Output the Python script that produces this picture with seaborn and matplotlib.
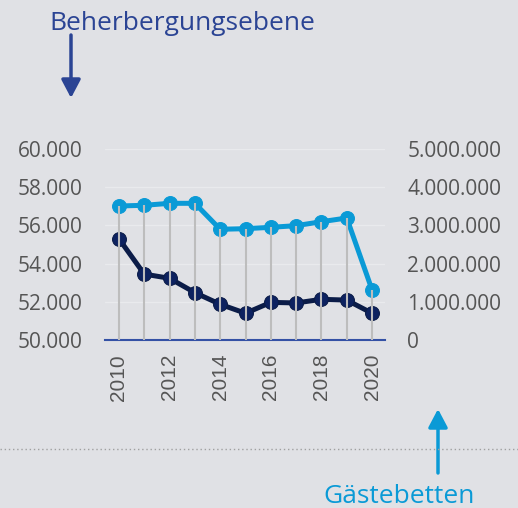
import numpy as np
import pandas as pd
import matplotlib
matplotlib.use('Agg')
import matplotlib.pyplot as plt
import seaborn as sns
from matplotlib.ticker import FuncFormatter
from matplotlib.lines import Line2D

# data
years = [2010, 2011, 2012, 2013, 2014, 2015, 2016, 2017, 2018, 2019, 2020]
betriebe = [55300, 53450, 53230, 52480, 51870, 51400, 51970, 51940, 52130, 52090, 51400]
betten = [3508000, 3526000, 3578000, 3578000, 2898000, 2914000, 2950000, 2993000, 3097000, 3194000, 1309000]
left_ticks = [50000, 52000, 54000, 56000, 58000, 60000]
right_ticks = [0, 1000000, 2000000, 3000000, 4000000, 5000000]
year_ticks = [2010, 2012, 2014, 2016, 2018, 2020]

bg = '#e0e1e5'
navy = '#0b1c48'
lightblue = '#0a9ad6'
titleblue = '#2b4494'
textgray = '#555555'

sns.set_theme(style='white')
plt.rcParams['font.family'] = ['Open Sans', 'DejaVu Sans']

df = pd.DataFrame({'year': years, 'betriebe': betriebe, 'betten': betten})

fig = plt.figure(figsize=(5.18, 5.08), dpi=100, facecolor=bg)
ax = fig.add_axes([105/518, 1-340/508, 280/518, 191/508])
ax.set_facecolor(bg)
ax2 = ax.twinx()

sns.lineplot(data=df, x='year', y='betriebe', ax=ax, color=navy, lw=3.6,
             marker='o', markersize=10, markeredgecolor=navy, markerfacecolor='#0d2260', zorder=3)
sns.lineplot(data=df, x='year', y='betten', ax=ax2, color=lightblue, lw=3.6,
             marker='o', markersize=10, markeredgecolor=lightblue, zorder=2)
ax2.vlines(df['year'], 0, df['betten'], color='#bdbdbd', lw=1.5, zorder=4)

ax.set_xlim(2009.45, 2020.51)
ax.set_ylim(50000, 60000)
ax2.set_ylim(0, 5000000)
ax.set_yticks(left_ticks)
ax2.set_yticks(right_ticks)
ax.set_xticks(year_ticks)
fmt = FuncFormatter(lambda v, p: f'{v:,.0f}'.replace(',', '.'))
ax.yaxis.set_major_formatter(fmt)
ax2.yaxis.set_major_formatter(fmt)
ax.set_xticklabels([str(y) for y in year_ticks], rotation=90, family='Liberation Sans',
                   fontsize=15, color=textgray)

for a in (ax, ax2):
    for s in a.spines.values():
        s.set_visible(False)
    a.set_xlabel('')
    a.set_ylabel('')
ax.spines['bottom'].set_visible(True)
ax.spines['bottom'].set_color('#3451a5')
ax.spines['bottom'].set_linewidth(1.5)

ax.tick_params(axis='y', length=0, pad=16, labelsize=15, labelcolor=textgray)
ax2.tick_params(axis='y', length=0, pad=16, labelsize=15, labelcolor=textgray)
ax.tick_params(axis='x', length=0, pad=10)
ax.grid(axis='y', color='#e9eaed', lw=1)
ax.set_axisbelow(True)

# headers and arrows
fig.text(49/518, 1-30/508, 'Beherbergungsebene', color=titleblue, fontsize=19, va='baseline')
fig.text(323/518, 5/508, 'Gästebetten', color=lightblue, fontsize=19, va='baseline')
ax.annotate('', xy=(71/518, 1-98/508), xytext=(71/518, 1-35/508), xycoords='figure fraction',
            arrowprops=dict(arrowstyle='-|>,head_length=0.55,head_width=0.29', color=titleblue,
                            lw=2.5, shrinkA=0, shrinkB=0, mutation_scale=20))
ax.annotate('', xy=(438/518, 1-409/508), xytext=(438/518, 1-473/508), xycoords='figure fraction',
            arrowprops=dict(arrowstyle='-|>,head_length=0.55,head_width=0.29', color=lightblue,
                            lw=2.5, shrinkA=0, shrinkB=0, mutation_scale=20))
fig.add_artist(Line2D([0, 1], [1-449/508, 1-449/508], transform=fig.transFigure,
                      color='#a0a0a0', lw=1, linestyle=(0, (1, 2))))

fig.savefig('out.png', dpi=100, facecolor=bg)
